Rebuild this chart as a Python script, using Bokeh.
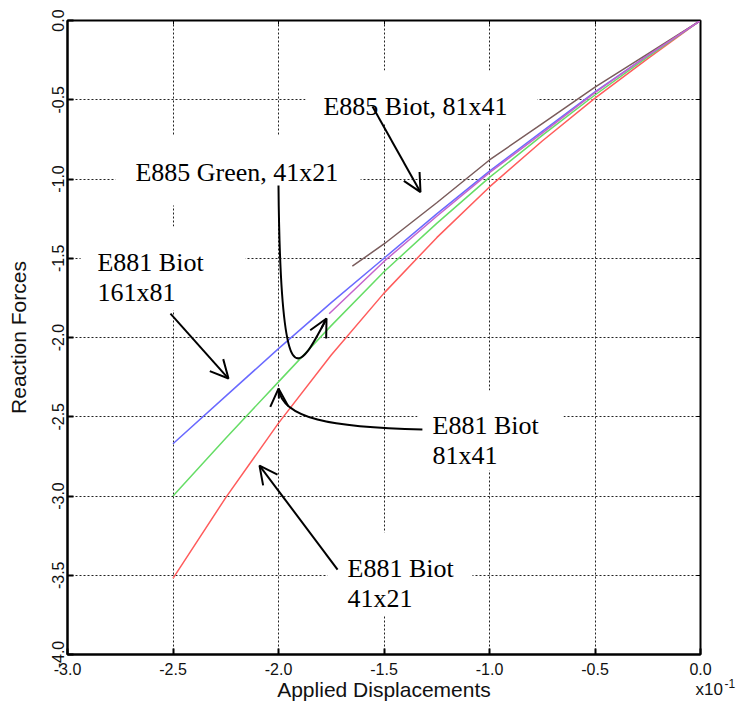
from bokeh.plotting import figure
from bokeh.models import Range1d, FixedTicker, LinearAxis, Label, Arrow, OpenHead, BoxAnnotation
from bokeh.embed import file_html
from bokeh.resources import INLINE

# ---------------- data (x in units of 1e-1) ----------------
x_ticks = [-3.0, -2.5, -2.0, -1.5, -1.0, -0.5, 0.0]
x_tick_labels = ["-3.0", "-2.5", "-2.0", "-1.5", "-1.0", "-0.5", "0.0"]
y_ticks = [-4.0, -3.5, -3.0, -2.5, -2.0, -1.5, -1.0, -0.5, 0.0]
y_tick_labels = ["-4.0", "-3.5", "-3.0", "-2.5", "-2.0", "-1.5", "-1.0", "-0.5", "0.0"]

disp_881 = [-2.5, -2.25, -2.0, -1.75, -1.5, -1.25, -1.0, -0.75, -0.5, -0.25, 0.0]
force_881_41x21 = [-3.52, -3.01, -2.54, -2.11, -1.72, -1.37, -1.05, -0.76, -0.49, -0.24, 0.0]
force_881_81x41 = [-3.00, -2.635, -2.28, -1.925, -1.585, -1.28, -0.99, -0.725, -0.47, -0.23, 0.0]
force_881_161x81 = [-2.67, -2.37, -2.07, -1.78, -1.50, -1.22, -0.95, -0.70, -0.45, -0.22, 0.0]

disp_885_biot = [-1.65, -1.5, -1.25, -1.0, -0.75, -0.5, -0.25, 0.0]
force_885_biot = [-1.55, -1.41, -1.15, -0.88, -0.65, -0.42, -0.21, 0.0]

disp_885_green = [-1.76, -1.5, -1.25, -1.0, -0.75, -0.5, -0.25, 0.0]
force_885_green = [-1.85, -1.52, -1.235, -0.96, -0.71, -0.455, -0.22, 0.0]

# annotation texts: (text, x, y baseline)
labels = [
    ("E885 Biot, 81x41", -1.787, -0.543),
    ("E885 Green, 41x21", -2.678, -0.959),
    ("E881 Biot", -2.858, -1.527),
    ("161x81", -2.858, -1.716),
    ("E881 Biot", -1.270, -2.555),
    ("81x41", -1.270, -2.744),
    ("E881 Biot", -1.673, -3.457),
    ("41x21", -1.673, -3.647),
]
# white boxes behind the annotation texts: (left, right, top, bottom)
label_boxes = [
    (-1.872, -0.773, -0.315, -0.650),
    (-2.773, -1.611, -0.726, -1.167),
    (-2.938, -2.156, -1.300, -1.830),
    (-1.341, -0.649, -2.334, -2.839),
    (-1.768, -1.081, -3.230, -3.754),
]
# straight arrows: (x_start, y_start, x_end, y_end)
straight_arrows = [
    (-1.5545, -0.5426, -1.327, -1.083),
    (-2.512, -1.849, -2.237, -2.259),
    (-1.720, -3.464, -2.090, -2.808),
]
# curved arrows: (x0, y0, cx0, cy0, cx1, cy1, x1, y1, head_start_x, head_start_y)
curved_arrows = [
    (-2.0, -1.041, -1.9905, -2.429, -1.905, -2.221, -1.7725, -1.880, -1.796, -1.940),
    (-1.318, -2.580, -1.754, -2.568, -1.981, -2.511, -2.0, -2.322, -1.998, -2.385),
]

# ---------------- figure ----------------
p = figure(frame_width=633, frame_height=634,
           x_range=Range1d(-3, 0), y_range=Range1d(-4, 0),
           output_backend="svg", toolbar_location=None,
           min_border_left=67, min_border_right=36, min_border_top=20, min_border_bottom=48,
           background_fill_color="white", border_fill_color="white")

p.outline_line_color = "black"
p.outline_line_width = 2

for ax, ticks, labs in ((p.xaxis[0], x_ticks, x_tick_labels), (p.yaxis[0], y_ticks, y_tick_labels)):
    ax.ticker = FixedTicker(ticks=ticks)
    ax.major_label_overrides = {t: l for t, l in zip(ticks, labs)}
    ax.major_tick_in = 6
    ax.major_tick_out = 0
    ax.minor_tick_in = 0
    ax.minor_tick_out = 0
    ax.major_tick_line_width = 2
    ax.axis_line_width = 2
    ax.major_label_text_font = "Liberation Sans"
    ax.major_label_text_font_size = "16px"
    ax.major_label_text_color = "#111111"
    ax.axis_label_text_font = "Liberation Sans"
    ax.axis_label_text_font_size = "21px"
    ax.axis_label_text_font_style = "normal"
    ax.axis_label_text_color = "#111111"

p.xaxis.axis_label = "Applied Displacements"
p.yaxis.axis_label = "Reaction Forces"
p.xaxis.major_label_standoff = 8
p.xaxis.axis_label_standoff = 0
p.yaxis.major_label_standoff = 4
p.yaxis.axis_label_standoff = 19
p.yaxis.major_label_orientation = "vertical"

for loc in ("above", "right"):
    ax = LinearAxis(ticker=FixedTicker(ticks=x_ticks if loc == "above" else y_ticks,
                                       minor_ticks=[]),
                    major_label_text_color=None, major_label_text_alpha=0,
                    axis_line_color=None,
                    major_tick_in=4, major_tick_out=0, major_tick_line_width=1,
                    minor_tick_in=0, minor_tick_out=0)
    p.add_layout(ax, loc)

p.grid.grid_line_color = "#222222"
p.grid.grid_line_dash = "2 2"
p.grid.grid_line_width = 1
p.xgrid.ticker = FixedTicker(ticks=x_ticks)
p.ygrid.ticker = FixedTicker(ticks=y_ticks)

# white boxes behind texts (above grid, below curves)
for l, r, t, b in label_boxes:
    p.add_layout(BoxAnnotation(left=l, right=r, top=t, bottom=b, fill_color="white",
                               fill_alpha=1, line_color=None, level="underlay"))

# ---------------- curves ----------------
p.line(disp_881, force_881_41x21, line_color="#ff5c5c", line_width=1.5)
p.line(disp_881, force_881_81x41, line_color="#66dd66", line_width=1.5)
p.line(disp_881, force_881_161x81, line_color="#6a6aff", line_width=1.5)
p.line(disp_885_biot, force_885_biot, line_color="#7a5c5c", line_width=1.5)
p.line(disp_885_green, force_885_green, line_color="#c464cc", line_width=1.5)

# ---------------- annotations ----------------
for txt, lx, ly in labels:
    p.add_layout(Label(x=lx, y=ly, text=txt, text_font="Liberation Serif",
                       text_font_size="26px", text_color="black",
                       text_baseline="alphabetic", text_align="left"))

for xs, ys, xe, ye in straight_arrows:
    p.add_layout(Arrow(x_start=xs, y_start=ys, x_end=xe, y_end=ye, line_width=2,
                       line_color="black",
                       end=OpenHead(size=18, line_width=2, line_color="black")))

for (x0, y0, cx0, cy0, cx1, cy1, x1, y1, hx, hy) in curved_arrows:
    p.bezier(x0=[x0], y0=[y0], cx0=[cx0], cy0=[cy0], cx1=[cx1], cy1=[cy1],
             x1=[x1], y1=[y1], line_color="black", line_width=2)
    p.add_layout(Arrow(x_start=hx, y_start=hy, x_end=x1, y_end=y1, line_width=2,
                       line_color="black",
                       end=OpenHead(size=18, line_width=2, line_color="black")))

# x10^-1 multiplier (placed in the lower side panel so it is not clipped by the frame)
p.add_layout(Label(x=-0.0237, y=-4.221, text="x10", text_font="Liberation Sans",
                   text_font_size="17px", text_color="#111111",
                   text_baseline="alphabetic"), "below")
p.add_layout(Label(x=0.1137, y=-4.183, text="-1", text_font="Liberation Sans",
                   text_font_size="12px", text_color="#111111",
                   text_baseline="alphabetic"), "below")

open("out.html", "w").write(file_html(p, INLINE))
